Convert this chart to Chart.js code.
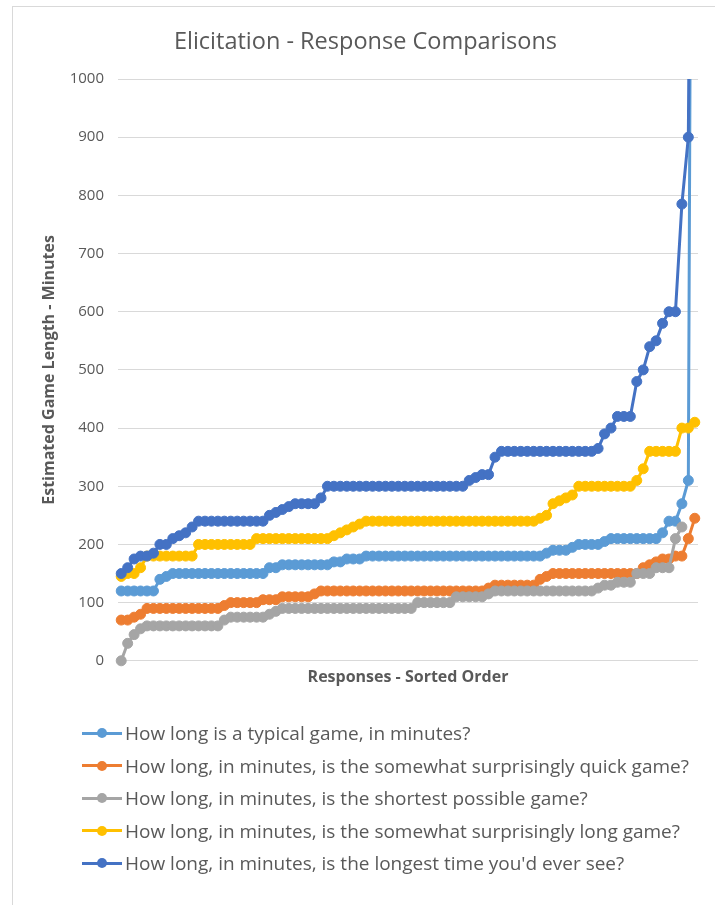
<!DOCTYPE html>
<html>
<head>
<meta charset="utf-8">
<script src="https://cdn.jsdelivr.net/npm/chart.js@4.4.1/dist/chart.umd.min.js"></script>
<style>
  html, body { margin: 0; padding: 0; background: #fff; }
  body { width: 715px; height: 905px; position: relative; overflow: hidden; font-family: "Open Sans", sans-serif; }
  #frame { position: absolute; left: 12px; top: 6px; width: 720px; height: 910px;
           border-left: 1px solid #D9D9D9; border-top: 1px solid #D9D9D9; box-sizing: border-box; }
  #chart { position: absolute; left: 0; top: 0; }
  #legend { position: absolute; left: 0; top: 0; width: 715px; height: 905px; pointer-events: none; }
  .row { position: absolute; left: 82px; height: 26px; display: flex; align-items: center; white-space: nowrap; }
  .swatch { position: relative; width: 40px; height: 3px; margin-right: 3px; }
  .swatch i { position: absolute; left: 15px; top: -3.5px; width: 10px; height: 10px; border-radius: 50%; }
  .row span { font-size: 19px; color: #595959; line-height: 26px; }
</style>
</head>
<body>
<div id="frame"></div>
<canvas id="chart" width="715" height="700"></canvas>
<div id="legend"></div>
<script>
// Sorted survey responses (minutes), one array per question.
const responses = [
  1,2,3,4,5,6,7,8,9,10,11,12,13,14,15,16,17,18,19,20,
  21,22,23,24,25,26,27,28,29,30,31,32,33,34,35,36,37,38,39,40,
  41,42,43,44,45,46,47,48,49,50,51,52,53,54,55,56,57,58,59,60,
  61,62,63,64,65,66,67,68,69,70,71,72,73,74,75,76,77,78,79,80,
  81,82,83,84,85,86,87,88,89,90
];

const typicalGame = [
  120,120,120,120,120,120,140,145,150,150,
  150,150,150,150,150,150,150,150,150,150,
  150,150,150,160,160,165,165,165,165,165,
  165,165,165,170,170,175,175,175,180,180,
  180,180,180,180,180,180,180,180,180,180,
  180,180,180,180,180,180,180,180,180,180,
  180,180,180,180,180,180,185,190,190,190,
  195,200,200,200,200,205,210,210,210,210,
  210,210,210,210,220,240,240,270,310,3000
];

const quickGame = [
  70,70,75,80,90,90,90,90,90,90,
  90,90,90,90,90,90,95,100,100,100,
  100,100,105,105,105,110,110,110,110,110,
  115,120,120,120,120,120,120,120,120,120,
  120,120,120,120,120,120,120,120,120,120,
  120,120,120,120,120,120,120,125,130,130,
  130,130,130,130,130,140,145,150,150,150,
  150,150,150,150,150,150,150,150,150,150,
  150,160,165,170,175,175,180,180,210,245
];

const shortestGame = [
  0,30,45,55,60,60,60,60,60,60,
  60,60,60,60,60,60,70,75,75,75,
  75,75,75,80,85,90,90,90,90,90,
  90,90,90,90,90,90,90,90,90,90,
  90,90,90,90,90,90,100,100,100,100,
  100,100,110,110,110,110,110,115,120,120,
  120,120,120,120,120,120,120,120,120,120,
  120,120,120,120,125,130,130,135,135,135,
  150,150,150,160,160,160,210,230,null,null
];

const longGame = [
  145,150,150,160,180,180,180,180,180,180,
  180,180,200,200,200,200,200,200,200,200,
  200,210,210,210,210,210,210,210,210,210,
  210,210,210,215,220,225,230,235,240,240,
  240,240,240,240,240,240,240,240,240,240,
  240,240,240,240,240,240,240,240,240,240,
  240,240,240,240,240,245,250,270,275,280,
  285,300,300,300,300,300,300,300,300,300,
  310,330,360,360,360,360,360,400,400,410
];

const longestGame = [
  150,160,175,180,180,185,200,200,210,215,
  220,230,240,240,240,240,240,240,240,240,
  240,240,240,250,255,260,265,270,270,270,
  270,280,300,300,300,300,300,300,300,300,
  300,300,300,300,300,300,300,300,300,300,
  300,300,300,300,310,315,320,320,350,360,
  360,360,360,360,360,360,360,360,360,360,
  360,360,360,360,365,390,400,420,420,420,
  480,500,540,550,580,600,600,785,900,2400
];

const seriesNames = [
  "How long is a typical game, in minutes?",
  "How long, in minutes, is the somewhat surprisingly quick game?",
  "How long, in minutes, is the shortest possible game?",
  "How long, in minutes, is the somewhat surprisingly long game?",
  "How long, in minutes, is the longest time you'd ever see?"
];
const seriesValues = [typicalGame, quickGame, shortestGame, longGame, longestGame];
const seriesColors = ["#5B9BD5", "#ED7D31", "#A5A5A5", "#FFC000", "#4472C4"];
const yTicks = [0, 100, 200, 300, 400, 500, 600, 700, 800, 900, 1000];

const textColor = "#595959";
const fontFamily = "'Open Sans', sans-serif";

const datasets = seriesValues.map((vals, k) => ({
  label: seriesNames[k],
  data: vals,
  borderColor: seriesColors[k],
  backgroundColor: seriesColors[k],
  pointBackgroundColor: seriesColors[k],
  pointBorderColor: seriesColors[k],
  borderWidth: 3,
  pointRadius: 5,
  pointBorderWidth: 1,
  tension: 0,
  spanGaps: false,
  order: seriesValues.length - k,       // later series drawn on top
  clip: { left: 8, right: 8, top: 0, bottom: 8 }
}));

new Chart(document.getElementById("chart"), {
  type: "line",
  data: { labels: responses, datasets },
  options: {
    responsive: false,
    animation: false,
    events: [],
    layout: { padding: { left: 33, right: 17, top: 0, bottom: 10 } },
    plugins: {
      legend: { display: false },
      tooltip: { enabled: false },
      title: {
        display: true,
        text: "Elicitation - Response Comparisons",
        color: textColor,
        font: { family: fontFamily, size: 23.5, weight: "normal" },
        padding: { top: 28, bottom: 22.8 }
      }
    },
    scales: {
      x: {
        type: "category",
        offset: true,
        grid: { display: false, drawTicks: false },
        border: { display: false },
        ticks: { display: false },
        title: {
          display: true,
          text: "Responses - Sorted Order",
          color: textColor,
          font: { family: fontFamily, size: 16, weight: "bold" },
          padding: { top: 7, bottom: 3 }
        }
      },
      y: {
        min: yTicks[0],
        max: yTicks[yTicks.length - 1],
        afterBuildTicks: (scale) => { scale.ticks = yTicks.map(v => ({ value: v })); },
        afterFit: (scale) => { scale.width = 85; },
        ticks: {
          color: textColor,
          font: { family: fontFamily, size: 15 },
          padding: 14,
          callback: (v) => String(v)
        },
        grid: { color: "#D9D9D9", lineWidth: 1, drawTicks: false },
        border: { display: false },
        title: {
          display: true,
          text: "Estimated Game Length - Minutes",
          color: textColor,
          font: { family: fontFamily, size: 16, weight: "bold" },
          padding: { top: 7, bottom: 0 }
        }
      }
    }
  }
});

// Legend: one row per question, line-and-marker swatch followed by the label.
const legend = document.getElementById("legend");
seriesNames.forEach((name, k) => {
  const row = document.createElement("div");
  row.className = "row";
  row.style.top = (733 + k * 32.5 - 13) + "px";
  const sw = document.createElement("div");
  sw.className = "swatch";
  sw.style.background = seriesColors[k];
  const dot = document.createElement("i");
  dot.style.background = seriesColors[k];
  sw.appendChild(dot);
  const txt = document.createElement("span");
  txt.textContent = name;
  row.appendChild(sw);
  row.appendChild(txt);
  legend.appendChild(row);
});
</script>
</body>
</html>
